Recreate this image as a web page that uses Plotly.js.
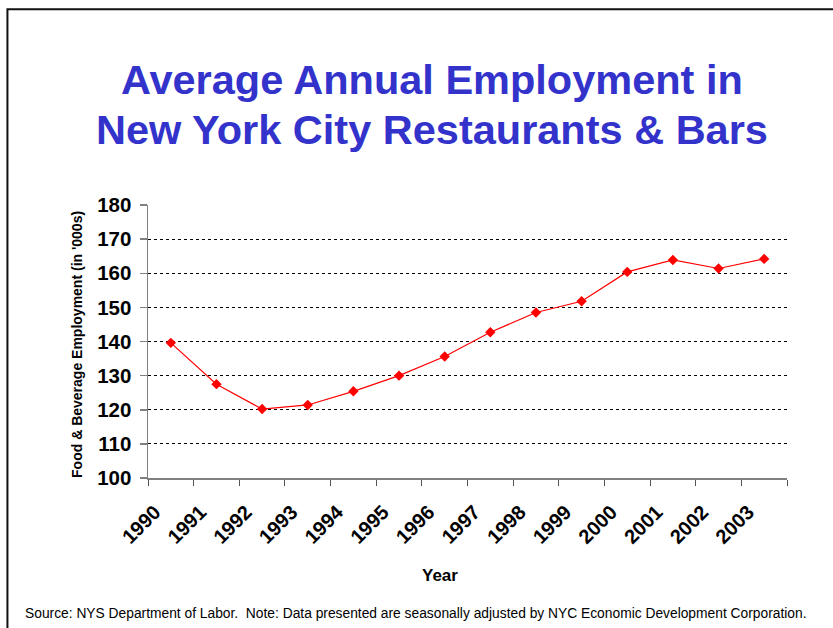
<!DOCTYPE html>
<html>
<head>
<meta charset="utf-8">
<script src="https://cdn.plot.ly/plotly-3.0.1.min.js"></script>
<style>
  html, body { margin: 0; padding: 0; background: #fff; }
  #chart { width: 833px; height: 628px; }
</style>
</head>
<body>
<div id="chart"></div>
<script>
// Data
var years = ["1990","1991","1992","1993","1994","1995","1996","1997","1998","1999","2000","2001","2002","2003"];
var employment = [139.6, 127.5, 120.2, 121.4, 125.4, 130.0, 135.6, 142.7, 148.5, 151.8, 160.4, 163.9, 161.4, 164.2];
var yTicks = [100, 110, 120, 130, 140, 150, 160, 170, 180];

var titleLine1 = "Average Annual Employment in";
var titleLine2 = "New York City Restaurants & Bars";
var yTitle = "Food & Beverage Employment (in '000s)";
var xTitle = "Year";
var sourceText = "Source: NYS Department of Labor.  Note: Data presented are seasonally adjusted by NYC Economic Development Corporation.";

var W = 833, H = 628;
var L = 148, R = 46.3, T = 204.7, B = 149.7;
var pw = W - L - R, ph = H - T - B;
function px(x) { return (x - L) / pw; }
function py(y) { return (H - B - y) / ph; }

var FONT = "Arial, 'Liberation Sans', sans-serif";

var trace = {
  x: years,
  y: employment,
  type: "scatter",
  mode: "lines+markers",
  line: { color: "#FF0000", width: 1.2 },
  marker: { symbol: "diamond", color: "#FF0000", size: 8 },
  hoverinfo: "x+y"
};

var layout = {
  width: W, height: H,
  margin: { l: L, r: R, t: T, b: B, pad: 0 },
  paper_bgcolor: "#FFFFFF",
  plot_bgcolor: "#FFFFFF",
  showlegend: false,
  font: { family: FONT, color: "#000" },
  xaxis: {
    type: "category",
    categoryorder: "array",
    categoryarray: years,
    range: [-0.5, years.length - 0.5],
    tickson: "boundaries",
    ticks: "outside",
    ticklen: 6,
    tickcolor: "#555",
    tickwidth: 1,
    showline: true,
    linecolor: "#808080",
    linewidth: 1.5,
    showgrid: false,
    zeroline: false,
    tickangle: -45,
    ticklabelshift: -16,
    ticklabelstandoff: 13,
    tickfont: { family: FONT, size: 20, weight: "bold", color: "#000" },
    fixedrange: true
  },
  yaxis: {
    range: [100, 180],
    tickvals: yTicks,
    ticktext: yTicks.map(String),
    ticks: "outside",
    ticklen: 7,
    tickcolor: "#808080",
    tickwidth: 1.5,
    showline: true,
    linecolor: "#808080",
    linewidth: 1.5,
    showgrid: true,
    gridcolor: "#000000",
    gridwidth: 1,
    griddash: "dot",
    zeroline: false,
    ticklabelstandoff: 4,
    tickfont: { family: FONT, size: 20.5, weight: "bold", color: "#000" },
    fixedrange: true
  },
  shapes: [
    {
      type: "rect", xref: "paper", yref: "paper",
      x0: px(7.5), x1: px(845), y0: py(645), y1: py(8.5),
      line: { color: "#111111", width: 2 },
      fillcolor: "rgba(0,0,0,0)",
      layer: "below"
    }
  ],
  annotations: [
    {
      text: titleLine1, xref: "paper", yref: "paper",
      x: px(432), y: py(79), xanchor: "center", yanchor: "middle",
      showarrow: false,
      font: { family: FONT, size: 41.5, weight: "bold", color: "#3333CC" }
    },
    {
      text: titleLine2, xref: "paper", yref: "paper",
      x: px(432), y: py(129.5), xanchor: "center", yanchor: "middle",
      showarrow: false,
      font: { family: FONT, size: 41.5, weight: "bold", color: "#3333CC" }
    },
    {
      text: yTitle, xref: "paper", yref: "paper",
      x: px(77), y: py(344), xanchor: "center", yanchor: "middle",
      textangle: -90, showarrow: false,
      font: { family: FONT, size: 14, weight: "bold", color: "#000" }
    },
    {
      text: xTitle, xref: "paper", yref: "paper",
      x: px(440), y: py(576.5), xanchor: "center", yanchor: "middle",
      showarrow: false,
      font: { family: FONT, size: 17, weight: "bold", color: "#000" }
    },
    {
      text: sourceText, xref: "paper", yref: "paper",
      x: px(23.5), y: py(614.5), xanchor: "left", yanchor: "middle",
      showarrow: false,
      font: { family: FONT, size: 13.8, color: "#000" }
    }
  ]
};

Plotly.newPlot("chart", [trace], layout, { displayModeBar: false, staticPlot: true });
</script>
</body>
</html>
